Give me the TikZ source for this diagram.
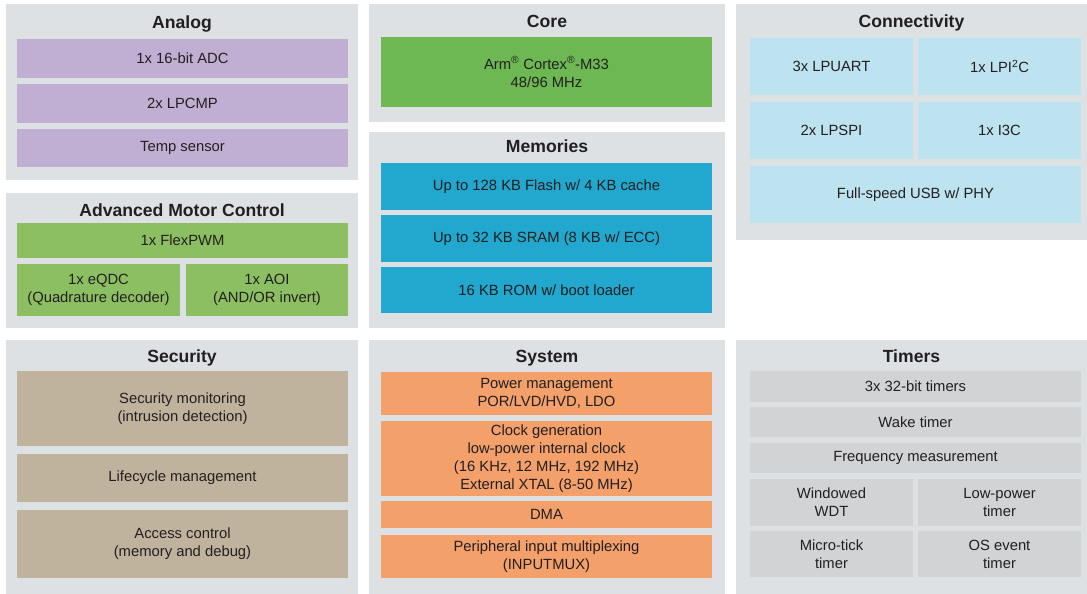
\documentclass[tikz,border=0pt]{standalone}
\usepackage{fontspec}
\setmainfont{Liberation Sans}
\definecolor{panelgray}{HTML}{DDE1E4}
\definecolor{analogpurple}{HTML}{C1AFD3}
\definecolor{coregreen}{HTML}{6DB853}
\definecolor{motorgreen}{HTML}{8CBF62}
\definecolor{memblue}{HTML}{22A8CE}
\definecolor{connblue}{HTML}{BEE3F0}
\definecolor{securtan}{HTML}{BFB39D}
\definecolor{sysorange}{HTML}{F3A06B}
\definecolor{timergray}{HTML}{D2D3D5}
\definecolor{txt}{HTML}{231F20}
\begin{document}
\begin{tikzpicture}[x=1pt,y=-1pt,
  panel/.style={fill=panelgray,inner sep=0pt,outer sep=0pt},
  blk/.style={inner sep=0pt,outer sep=0pt,text=txt,align=center,
    font=\fontsize{14.8}{18}\selectfont},
  ttl/.style={anchor=base,text=txt,font=\fontsize{17.6}{20}\selectfont\bfseries}]
\useasboundingbox (0,0) rectangle (1087,594);
% panels
\node[panel,minimum width=352pt,minimum height=176pt] (analog) at (182,92) {};
\node[panel,minimum width=352pt,minimum height=135pt] (motor) at (182,260.5) {};
\node[panel,minimum width=352pt,minimum height=254pt] (secur) at (182,467) {};
\node[panel,minimum width=356pt,minimum height=118pt] (core) at (547,63) {};
\node[panel,minimum width=356pt,minimum height=196pt] (mem) at (547,230) {};
\node[panel,minimum width=356pt,minimum height=254pt] (sys) at (547,467) {};
\node[panel,minimum width=351pt,minimum height=236pt] (conn) at (911.5,122) {};
\node[panel,minimum width=351pt,minimum height=254pt] (timer) at (911.5,467) {};
% titles
\node[ttl] (analogt) at (182,29) {Analog};
\node[ttl] (motort) at (182,216) {Advanced Motor Control};
\node[ttl] (secort) at (182,362) {Security};
\node[ttl] (coret) at (547,28) {Core};
\node[ttl] (memt) at (547,152) {Memories};
\node[ttl] (syst) at (547,362) {System};
\node[ttl] (connt) at (911.5,27.5) {Connectivity};
\node[ttl] (timert) at (911.5,362) {Timers};
% analog
\node[blk,fill=analogpurple,minimum width=331pt,minimum height=39pt] (adc) at (182.5,58.5) {1x 16-bit ADC};
\node[blk,fill=analogpurple,minimum width=331pt,minimum height=39pt] (cmp) at (182.5,103.5) {2x LPCMP};
\node[blk,fill=analogpurple,minimum width=331pt,minimum height=38pt] (temp) at (182.5,148) {Temp sensor};
% motor control
\node[blk,fill=motorgreen,minimum width=331pt,minimum height=35pt] (pwm) at (182.5,240.5) {1x FlexPWM};
\node[blk,fill=motorgreen,minimum width=163pt,minimum height=52pt] (qdc) at (98.5,290) {1x eQDC\\(Quadrature decoder)};
\node[blk,fill=motorgreen,minimum width=162pt,minimum height=52pt] (aoi) at (267,290) {1x AOI\\(AND/OR invert)};
% security
\node[blk,fill=securtan,minimum width=331pt,minimum height=75pt] (monit) at (182.5,408.5) {Security monitoring\\(intrusion detection)};
\node[blk,fill=securtan,minimum width=331pt,minimum height=48pt] (life) at (182.5,478) {Lifecycle management};
\node[blk,fill=securtan,minimum width=331pt,minimum height=68pt] (access) at (182.5,544) {Access control\\(memory and debug)};
% core
\node[blk,fill=coregreen,minimum width=331pt,minimum height=70pt] (cpu) at (546.5,72) {Arm\textsuperscript{\textregistered} Cortex\textsuperscript{\textregistered}-M33\\48/96 MHz};
% memories
\node[blk,fill=memblue,minimum width=331pt,minimum height=47pt] (flash) at (546.5,186.5) {Up to 128 KB Flash w/ 4 KB cache};
\node[blk,fill=memblue,minimum width=331pt,minimum height=47pt] (sram) at (546.5,238.5) {Up to 32 KB SRAM (8 KB w/ ECC)};
\node[blk,fill=memblue,minimum width=331pt,minimum height=46pt] (rom) at (546.5,290) {16 KB ROM w/ boot loader};
% system
\node[blk,fill=sysorange,minimum width=331pt,minimum height=43pt] (power) at (546.5,393.5) {Power management\\POR/LVD/HVD, LDO};
\node[blk,fill=sysorange,minimum width=331pt,minimum height=75pt] (clock) at (546.5,458.5) {Clock generation\\low-power internal clock\\(16 KHz, 12 MHz, 192 MHz)\\External XTAL (8-50 MHz)};
\node[blk,fill=sysorange,minimum width=331pt,minimum height=27pt] (dma) at (546.5,514.5) {DMA};
\node[blk,fill=sysorange,minimum width=331pt,minimum height=43pt] (mux) at (546.5,556.5) {Peripheral input multiplexing\\(INPUTMUX)};
% connectivity
\node[blk,fill=connblue,minimum width=163pt,minimum height=57pt] (uart) at (831.5,66.5) {3x LPUART};
\node[blk,fill=connblue,minimum width=163pt,minimum height=57pt] (iic) at (999.5,66.5) {1x LPI\textsuperscript{2}C};
\node[blk,fill=connblue,minimum width=163pt,minimum height=57pt] (spi) at (831.5,130.5) {2x LPSPI};
\node[blk,fill=connblue,minimum width=163pt,minimum height=57pt] (ithreec) at (999.5,130.5) {1x I3C};
\node[blk,fill=connblue,minimum width=331pt,minimum height=57pt] (usb) at (915.5,194.5) {Full-speed USB w/ PHY};
% timers
\node[blk,fill=timergray,minimum width=331pt,minimum height=31pt] (ctimer) at (915.5,386.5) {3x 32-bit timers};
\node[blk,fill=timergray,minimum width=331pt,minimum height=30pt] (wake) at (915.5,422) {Wake timer};
\node[blk,fill=timergray,minimum width=331pt,minimum height=30pt] (freq) at (915.5,458) {Frequency measurement};
\node[blk,fill=timergray,minimum width=163pt,minimum height=47pt] (wdt) at (831.5,502.5) {Windowed\\WDT};
\node[blk,fill=timergray,minimum width=163pt,minimum height=47pt] (lptmr) at (999.5,502.5) {Low-power\\timer};
\node[blk,fill=timergray,minimum width=163pt,minimum height=46pt] (utick) at (831.5,554) {Micro-tick\\timer};
\node[blk,fill=timergray,minimum width=163pt,minimum height=46pt] (ostimer) at (999.5,554) {OS event\\timer};
\end{tikzpicture}
\end{document}
